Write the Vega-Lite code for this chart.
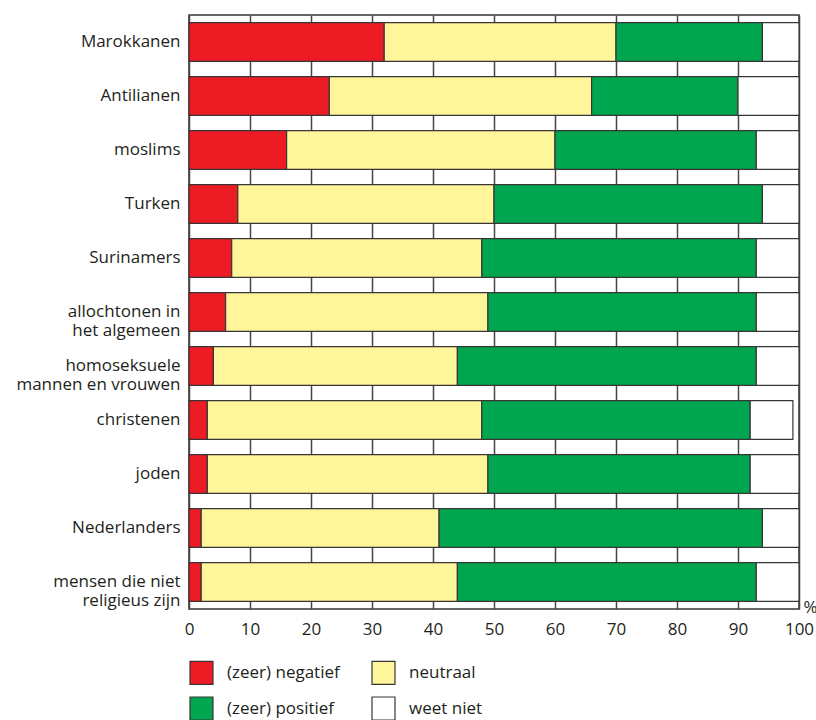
{
  "$schema": "https://vega.github.io/schema/vega-lite/v6.json",
  "width": 610,
  "height": 594,
  "autosize": "none",
  "padding": {"left": 189, "top": 15, "right": 17, "bottom": 111},
  "background": "white",
  "config": {
    "font": "Open Sans",
    "view": {"stroke": "#3a3535", "strokeWidth": 1.5},
    "axis": {"labelColor": "#231F20", "titleColor": "#231F20"}
  },
  "data": {
    "values": [
      {"groep": "Marokkanen", "mening": "(zeer) negatief", "orde": 1, "pct": 32},
      {"groep": "Marokkanen", "mening": "neutraal", "orde": 2, "pct": 38},
      {"groep": "Marokkanen", "mening": "(zeer) positief", "orde": 3, "pct": 24},
      {"groep": "Marokkanen", "mening": "weet niet", "orde": 4, "pct": 6},
      {"groep": "Antilianen", "mening": "(zeer) negatief", "orde": 1, "pct": 23},
      {"groep": "Antilianen", "mening": "neutraal", "orde": 2, "pct": 43},
      {"groep": "Antilianen", "mening": "(zeer) positief", "orde": 3, "pct": 24},
      {"groep": "Antilianen", "mening": "weet niet", "orde": 4, "pct": 10},
      {"groep": "moslims", "mening": "(zeer) negatief", "orde": 1, "pct": 16},
      {"groep": "moslims", "mening": "neutraal", "orde": 2, "pct": 44},
      {"groep": "moslims", "mening": "(zeer) positief", "orde": 3, "pct": 33},
      {"groep": "moslims", "mening": "weet niet", "orde": 4, "pct": 7},
      {"groep": "Turken", "mening": "(zeer) negatief", "orde": 1, "pct": 8},
      {"groep": "Turken", "mening": "neutraal", "orde": 2, "pct": 42},
      {"groep": "Turken", "mening": "(zeer) positief", "orde": 3, "pct": 44},
      {"groep": "Turken", "mening": "weet niet", "orde": 4, "pct": 6},
      {"groep": "Surinamers", "mening": "(zeer) negatief", "orde": 1, "pct": 7},
      {"groep": "Surinamers", "mening": "neutraal", "orde": 2, "pct": 41},
      {"groep": "Surinamers", "mening": "(zeer) positief", "orde": 3, "pct": 45},
      {"groep": "Surinamers", "mening": "weet niet", "orde": 4, "pct": 7},
      {"groep": "allochtonen in|het algemeen", "mening": "(zeer) negatief", "orde": 1, "pct": 6},
      {"groep": "allochtonen in|het algemeen", "mening": "neutraal", "orde": 2, "pct": 43},
      {"groep": "allochtonen in|het algemeen", "mening": "(zeer) positief", "orde": 3, "pct": 44},
      {"groep": "allochtonen in|het algemeen", "mening": "weet niet", "orde": 4, "pct": 7},
      {"groep": "homoseksuele|mannen en vrouwen", "mening": "(zeer) negatief", "orde": 1, "pct": 4},
      {"groep": "homoseksuele|mannen en vrouwen", "mening": "neutraal", "orde": 2, "pct": 40},
      {"groep": "homoseksuele|mannen en vrouwen", "mening": "(zeer) positief", "orde": 3, "pct": 49},
      {"groep": "homoseksuele|mannen en vrouwen", "mening": "weet niet", "orde": 4, "pct": 7},
      {"groep": "christenen", "mening": "(zeer) negatief", "orde": 1, "pct": 3},
      {"groep": "christenen", "mening": "neutraal", "orde": 2, "pct": 45},
      {"groep": "christenen", "mening": "(zeer) positief", "orde": 3, "pct": 44},
      {"groep": "christenen", "mening": "weet niet", "orde": 4, "pct": 7},
      {"groep": "joden", "mening": "(zeer) negatief", "orde": 1, "pct": 3},
      {"groep": "joden", "mening": "neutraal", "orde": 2, "pct": 46},
      {"groep": "joden", "mening": "(zeer) positief", "orde": 3, "pct": 43},
      {"groep": "joden", "mening": "weet niet", "orde": 4, "pct": 8},
      {"groep": "Nederlanders", "mening": "(zeer) negatief", "orde": 1, "pct": 2},
      {"groep": "Nederlanders", "mening": "neutraal", "orde": 2, "pct": 39},
      {"groep": "Nederlanders", "mening": "(zeer) positief", "orde": 3, "pct": 53},
      {"groep": "Nederlanders", "mening": "weet niet", "orde": 4, "pct": 6},
      {"groep": "mensen die niet|religieus zijn", "mening": "(zeer) negatief", "orde": 1, "pct": 2},
      {"groep": "mensen die niet|religieus zijn", "mening": "neutraal", "orde": 2, "pct": 42},
      {"groep": "mensen die niet|religieus zijn", "mening": "(zeer) positief", "orde": 3, "pct": 49},
      {"groep": "mensen die niet|religieus zijn", "mening": "weet niet", "orde": 4, "pct": 7}
    ]
  },
  "mark": {"type": "bar", "stroke": "#3a3535", "strokeWidth": 1.2},
  "encoding": {
    "y": {
      "field": "groep",
      "type": "nominal",
      "sort": null,
      "scale": {"paddingInner": 0.28, "paddingOuter": 0.14},
      "axis": {
        "title": null,
        "domain": false,
        "ticks": false,
        "labelFontSize": 17,
        "labelPadding": 9,
        "labelLineHeight": 19,
        "labelExpr": "split(datum.label, '|')"
      }
    },
    "x": {
      "field": "pct",
      "type": "quantitative",
      "stack": "zero",
      "scale": {"domain": [0, 100], "nice": false},
      "axis": {
        "values": [0, 10, 20, 30, 40, 50, 60, 70, 80, 90, 100],
        "grid": true,
        "gridColor": "#4a4545",
        "gridWidth": 1.5,
        "gridOpacity": 1,
        "domain": false,
        "ticks": false,
        "labelFontSize": 17,
        "labelPadding": 12,
        "labelFlush": false,
        "title": "%",
        "titleFontSize": 17,
        "titleFontWeight": "normal",
        "titleX": 614,
        "titleY": -2,
        "titleAlign": "left",
        "titleBaseline": "middle"
      }
    },
    "color": {
      "field": "mening",
      "type": "nominal",
      "scale": {
        "domain": ["(zeer) negatief", "(zeer) positief", "neutraal", "weet niet"],
        "range": ["#ED1C24", "#00A550", "#FFF59A", "#FFFFFF"]
      },
      "legend": {
        "title": null,
        "orient": "none",
        "legendX": 0,
        "legendY": 645,
        "columns": 2,
        "symbolType": "square",
        "symbolSize": 529,
        "symbolStrokeColor": "#3a3535",
        "symbolStrokeWidth": 1.2,
        "labelFontSize": 17,
        "labelColor": "#231F20",
        "labelOffset": 13,
        "columnPadding": 29,
        "rowPadding": 7
      }
    },
    "order": {"field": "orde", "type": "quantitative"}
  }
}
